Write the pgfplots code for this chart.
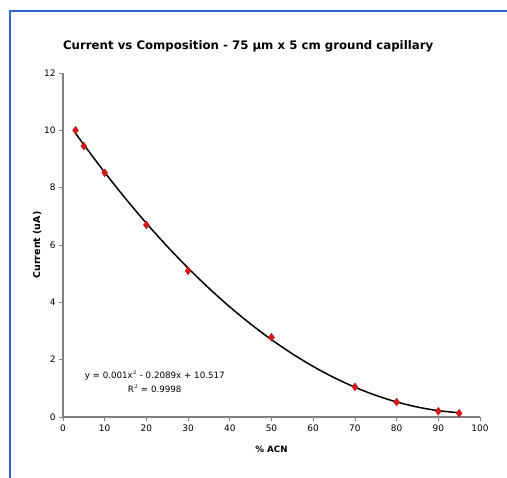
\documentclass[border=0pt]{standalone}
\usepackage{fontspec}
\setmainfont{DejaVu Sans}
\usepackage{pgfplots}
\pgfplotsset{compat=1.18}
\definecolor{frameblue}{RGB}{51,102,204}
\definecolor{mkred}{RGB}{215,25,25}
\definecolor{axgray}{RGB}{128,128,128}
\begin{document}
\begin{tikzpicture}
\useasboundingbox (-63bp,-61bp) rectangle (444bp,417bp);
\draw[frameblue, line width=1.6bp] (-53bp,-61bp) -- (-53bp,406bp) -- (444bp,406bp);
\begin{axis}[
  at={(0,0)}, anchor=south west,
  scale only axis, width=417bp, height=344bp,
  xmin=0, xmax=100, ymin=0, ymax=12,
  xtick={0,10,...,100}, ytick={0,2,...,12},
  axis x line*=bottom, axis y line*=left,
  axis line style={axgray, line width=1.2bp, -},
  tick style={axgray, line width=0.8bp},
  tick align=outside, major tick length=4bp,
  ticklabel style={font=\fontsize{9}{10}\selectfont},
  /pgf/number format/assume math mode=true,
  xlabel={\bfseries\% ACN},
  ylabel={\bfseries Current (uA)},
  xlabel style={font=\fontsize{8.75}{10}\selectfont, at={(axis description cs:0.5,-0.093)}, anchor=center},
  ylabel style={font=\fontsize{9.5}{10}\selectfont, at={(axis description cs:-0.062,0.5)}, anchor=center, rotate=0},
  title={\bfseries Current vs Composition - 75 µm x 5 cm ground capillary},
  title style={font=\fontsize{11.8}{13}\selectfont, at={(axis description cs:0.444,1.06)}, anchor=center},
  clip=false,
]
\addplot[only marks, mark=diamond*, mark size=4bp, mark options={fill=mkred, draw=mkred!85!black, line width=0.3bp}]
  coordinates {(3,10.0) (5,9.45) (10,8.52) (20,6.7) (30,5.1) (50,2.78) (70,1.05) (80,0.52) (90,0.2) (95,0.13)};
\addplot[black, line width=1.5bp, smooth]
  coordinates {(3,9.900) (5,9.499) (10,8.533) (15,7.620) (20,6.759) (25,5.951) (30,5.195) (35,4.492) (40,3.841) (45,3.243) (50,2.697) (55,2.204) (60,1.763) (65,1.375) (70,1.039) (75,0.756) (80,0.525) (85,0.347) (90,0.221) (95,0.148)};
\node[font=\fontsize{8.75}{10}\selectfont, align=center] at (axis cs:22,1.23) {y = 0.001x$^{2}$ - 0.2089x + 10.517\\[4pt] R$^{2}$ = 0.9998};
\end{axis}
\end{tikzpicture}
\end{document}
